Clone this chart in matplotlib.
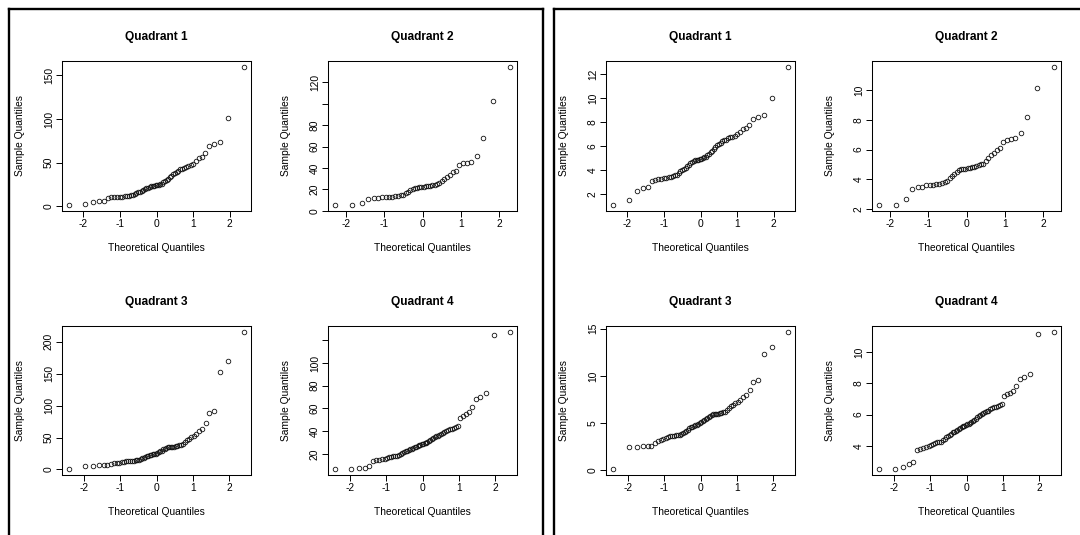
from statistics import NormalDist

import matplotlib
matplotlib.use("Agg")
from matplotlib import pyplot
from matplotlib.lines import Line2D

pyplot.rcParams['font.family'] = ['Liberation Sans', 'DejaVu Sans']

# sorted sample values for each quadrant, raw counts
raw_q1 = [1.1, 2.3, 5.2, 6.4, 6.6, 9.3, 10.2, 10.6, 10.8, 11.0,
          11.3, 11.7, 11.9, 12.1, 12.6, 13.1, 14.1, 15.2, 16.0, 16.4,
          17.2, 18.5, 19.8, 20.7, 21.6, 22.6, 23.0, 23.5, 23.8, 24.2,
          24.5, 25.0, 25.5, 26.2, 27.6, 28.6, 30.3, 31.4, 33.1, 34.8,
          37.2, 38.4, 39.7, 41.0, 42.3, 42.9, 44.2, 45.6, 46.2, 46.9,
          49.0, 51.8, 55.5, 57.0, 60.8, 68.9, 71.4, 74.0, 101.0, 160.0]
raw_q2 = [5.0, 5.0, 7.0, 11.2, 11.9, 12.1, 13.1, 13.2, 13.2, 13.3,
          13.7, 13.8, 14.3, 14.9, 16.7, 17.6, 19.0, 20.3, 21.2, 21.7,
          22.1, 22.3, 22.6, 22.8, 23.0, 23.5, 24.0, 24.5, 25.0, 25.5,
          27.6, 29.7, 31.9, 33.6, 36.0, 37.2, 42.3, 44.2, 44.9, 45.6,
          51.1, 67.6, 102.8, 134.6]
raw_q3 = [0.01, 6.0, 6.2, 6.5, 6.7, 6.9, 8.7, 9.6, 10.6, 10.9,
          11.7, 12.3, 13.0, 13.3, 13.5, 13.7, 13.8, 14.1, 14.8, 15.6,
          16.8, 17.6, 18.5, 19.8, 20.7, 21.3, 22.1, 22.8, 23.5, 24.2,
          25.0, 26.0, 27.0, 28.6, 29.7, 31.4, 32.5, 33.6, 34.6, 35.0,
          35.4, 35.8, 36.0, 36.6, 37.2, 37.8, 38.4, 40.3, 43.6, 46.2,
          48.3, 50.4, 52.6, 55.5, 60.1, 64.0, 73.1, 88.4, 92.2, 152.5,
          170.3, 216.1]
raw_q4 = [6.3, 6.3, 7.2, 8.0, 9.0, 14.1, 14.5, 14.8, 15.3, 15.8,
          16.3, 17.1, 17.6, 18.0, 18.1, 18.3, 19.0, 20.0, 21.0, 21.5,
          22.4, 22.9, 23.6, 24.0, 24.6, 25.0, 25.7, 26.3, 27.0, 27.7,
          28.1, 28.6, 29.1, 29.5, 30.0, 30.7, 31.4, 32.1, 32.8, 33.9,
          34.6, 35.4, 36.1, 37.0, 37.7, 38.4, 39.1, 40.1, 41.0, 41.7,
          42.3, 42.9, 43.4, 44.6, 51.8, 53.3, 54.8, 56.7, 61.3, 68.2,
          70.4, 74.0, 124.8, 127.7]

# same quadrants after square root transform
sqrt_q1 = [1.04, 1.50, 2.28, 2.52, 2.56, 3.05, 3.20, 3.25, 3.28, 3.32,
           3.36, 3.42, 3.45, 3.48, 3.55, 3.62, 3.75, 3.90, 4.00, 4.05,
           4.15, 4.30, 4.45, 4.55, 4.65, 4.75, 4.80, 4.85, 4.88, 4.92,
           4.95, 5.00, 5.05, 5.12, 5.25, 5.35, 5.50, 5.60, 5.75, 5.90,
           6.10, 6.20, 6.30, 6.40, 6.50, 6.55, 6.65, 6.75, 6.80, 6.85,
           7.00, 7.20, 7.45, 7.55, 7.80, 8.30, 8.45, 8.60, 10.05, 12.65]
sqrt_q2 = [2.23, 2.24, 2.64, 3.34, 3.45, 3.48, 3.62, 3.63, 3.64, 3.65,
           3.70, 3.72, 3.78, 3.86, 4.09, 4.20, 4.36, 4.50, 4.60, 4.66,
           4.70, 4.72, 4.75, 4.77, 4.80, 4.85, 4.90, 4.95, 5.00, 5.05,
           5.25, 5.45, 5.65, 5.80, 6.00, 6.10, 6.50, 6.65, 6.70, 6.75,
           7.15, 8.22, 10.14, 11.60]
sqrt_q3 = [0.10, 2.45, 2.48, 2.55, 2.58, 2.62, 2.95, 3.10, 3.25, 3.30,
           3.42, 3.50, 3.60, 3.65, 3.68, 3.70, 3.72, 3.75, 3.85, 3.95,
           4.10, 4.20, 4.30, 4.45, 4.55, 4.62, 4.70, 4.78, 4.85, 4.92,
           5.00, 5.10, 5.20, 5.35, 5.45, 5.60, 5.70, 5.80, 5.88, 5.92,
           5.95, 5.98, 6.00, 6.05, 6.10, 6.15, 6.20, 6.35, 6.60, 6.80,
           6.95, 7.10, 7.25, 7.45, 7.75, 8.00, 8.55, 9.40, 9.60, 12.35,
           13.05, 14.70]
sqrt_q4 = [2.50, 2.51, 2.69, 2.82, 3.00, 3.76, 3.81, 3.85, 3.91, 3.98,
           4.04, 4.13, 4.20, 4.24, 4.26, 4.28, 4.36, 4.47, 4.58, 4.64,
           4.73, 4.79, 4.86, 4.90, 4.96, 5.00, 5.07, 5.13, 5.20, 5.26,
           5.30, 5.35, 5.39, 5.43, 5.48, 5.54, 5.60, 5.67, 5.73, 5.82,
           5.88, 5.95, 6.01, 6.08, 6.14, 6.20, 6.25, 6.33, 6.40, 6.46,
           6.50, 6.55, 6.59, 6.68, 7.20, 7.30, 7.40, 7.53, 7.83, 8.26,
           8.39, 8.60, 11.17, 11.30]

titles = ["Quadrant 1", "Quadrant 2", "Quadrant 3", "Quadrant 4"]
x_ticks = [-2, -1, 0, 1, 2]

raw_yticks = [[0, 50, 100, 150],
              [0, 20, 40, 60, 80, 100, 120],
              [0, 50, 100, 150, 200],
              [20, 40, 60, 80, 100, 120]]
raw_ylabels = [["0", "50", "100", "150"],
               ["0", "20", "40", "60", "80", "", "120"],
               ["0", "50", "100", "150", "200"],
               ["20", "40", "60", "80", "100", ""]]
sqrt_yticks = [[2, 4, 6, 8, 10, 12],
               [2, 4, 6, 8, 10],
               [0, 5, 10, 15],
               [4, 6, 8, 10]]
sqrt_ylabels = [[str(t) for t in ticks] for ticks in sqrt_yticks]

W, H = 1080, 535
fontsize = 7.4
title_size = 8.6

# panel boxes in pixels (left, top, right, bottom) for one 2x2 device
cells = [(62, 61, 251, 211), (328, 61, 517, 211),
         (62, 326, 251, 475), (328, 326, 517, 475)]
device_offset = 544

fig = pyplot.figure(figsize=(W / 100.0, H / 100.0), dpi=100)
fig.patch.set_facecolor('white')


def qq_panel(values, box, title, yticks, ylabels):
    x0, y0, x1, y1 = box
    axes = fig.add_axes([x0 / W, 1 - y1 / H, (x1 - x0) / W, (y1 - y0) / H])
    n = len(values)
    a = 3.0 / 8 if n <= 10 else 0.5
    dist = NormalDist()
    theo = [dist.inv_cdf((i + 1 - a) / (n + 1 - 2 * a)) for i in range(n)]
    axes.plot(theo, values, linestyle='none', marker='o', markersize=3.3,
              markerfacecolor='none', markeredgecolor='#111111',
              markeredgewidth=0.6)
    lo, hi = min(theo), max(theo)
    axes.set_xlim(lo - 0.04 * (hi - lo), hi + 0.04 * (hi - lo))
    lo, hi = min(values), max(values)
    axes.set_ylim(lo - 0.04 * (hi - lo), hi + 0.04 * (hi - lo))
    axes.set_xticks(x_ticks)
    axes.set_xticklabels([str(t) for t in x_ticks])
    axes.set_yticks(yticks)
    axes.set_yticklabels(ylabels, rotation=90, va='center')
    axes.tick_params(direction='out', length=4.3, width=0.7, pad=1.5,
                     labelsize=fontsize, colors='black')
    for spine in axes.spines.values():
        spine.set_linewidth(0.75)
        spine.set_color('black')
    cx = (x0 + x1) / 2.0
    cy = (y0 + y1) / 2.0
    fig.text(cx / W, 1 - (y0 - 24) / H, title, ha='center', va='center',
             fontsize=title_size, fontweight='bold')
    fig.text(cx / W, 1 - (y1 + 37) / H, 'Theoretical Quantiles',
             ha='center', va='center', fontsize=fontsize)
    fig.text((x0 - 42) / W, 1 - cy / H, 'Sample Quantiles', rotation=90,
             ha='center', va='center', fontsize=fontsize)
    return axes


raw_sets = [raw_q1, raw_q2, raw_q3, raw_q4]
sqrt_sets = [sqrt_q1, sqrt_q2, sqrt_q3, sqrt_q4]

for k in range(4):
    qq_panel(raw_sets[k], cells[k], titles[k], raw_yticks[k], raw_ylabels[k])
    x0, y0, x1, y1 = cells[k]
    shifted = (x0 + device_offset, y0, x1 + device_offset, y1)
    qq_panel(sqrt_sets[k], shifted, titles[k], sqrt_yticks[k],
             sqrt_ylabels[k])


# black frames around the two plot windows
def frame_line(xs, ys):
    fig.add_artist(Line2D([x / W for x in xs], [1 - y / H for y in ys],
                          transform=fig.transFigure, color='black',
                          linewidth=1.7, solid_capstyle='projecting'))


frame_line([9, 543], [9, 9])
frame_line([9, 9], [9, H + 5])
frame_line([543, 543], [9, H + 5])
frame_line([554, W + 5], [9, 9])
frame_line([554, 554], [9, H + 5])

pyplot.savefig('out.png', dpi=100)
